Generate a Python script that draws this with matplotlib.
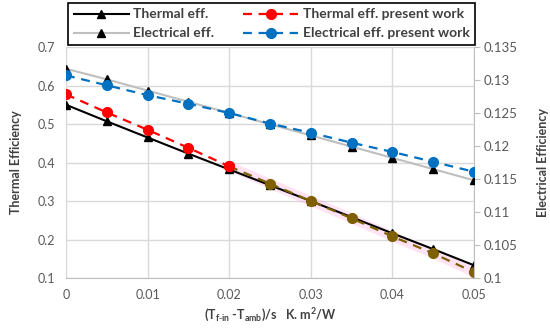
import matplotlib.pyplot as plt
from matplotlib.lines import Line2D

plt.rcParams["font.family"] = ["Lato", "DejaVu Sans"]

# reduced temperature (T_f-in - T_amb)/s
x_vals = [0, 0.005, 0.01, 0.015, 0.02, 0.025, 0.03, 0.035, 0.04, 0.045, 0.05]

thermal_eff = [0.550, 0.507, 0.465, 0.423, 0.382, 0.341, 0.300, 0.258, 0.216, 0.175, 0.133]
thermal_eff_pw = [0.577, 0.530, 0.485, 0.438, 0.390, 0.345, 0.300, 0.255, 0.208, 0.164, 0.115]
electrical_eff = [0.1317, 0.1301, 0.1284, 0.1267, 0.1250, 0.1233, 0.1216, 0.1199, 0.1182, 0.1165, 0.1148]
electrical_eff_pw = [0.1307, 0.1292, 0.1277, 0.1264, 0.1250, 0.1234, 0.1220, 0.1205, 0.1191, 0.1176, 0.1161]

x_ticks = [0, 0.01, 0.02, 0.03, 0.04, 0.05]
left_ticks = [0.1, 0.2, 0.3, 0.4, 0.5, 0.6, 0.7]
right_ticks = [0.1, 0.105, 0.11, 0.115, 0.12, 0.125, 0.13, 0.135]

tick_col = "#595959"
grid_col = "#D9D9D9"
label_col = "#404040"

fig = plt.figure(figsize=(5.5, 3.31), dpi=100)
ax = fig.add_axes([0.12, 0.16, 0.742, 0.698])
ax2 = ax.twinx()

# left axis: thermal
ax.plot(x_vals, thermal_eff, color="black", lw=1.5, marker="^", ms=6, zorder=3)
split = 4
ax.plot(x_vals[split:], thermal_eff_pw[split:], color="#FF66CC", lw=7, alpha=0.18,
        solid_capstyle="round", zorder=2)
ax.plot(x_vals[:split + 1], thermal_eff_pw[:split + 1], color="#FF0000", lw=1.6,
        ls=(0, (4, 3)), marker="o", ms=7, zorder=4)
ax.plot(x_vals[split + 1:], thermal_eff_pw[split + 1:], color="#7F6000", lw=1.6,
        ls=(0, (4, 3)), marker="o", ms=7, zorder=4)
ax.plot(x_vals[split:split + 2], thermal_eff_pw[split:split + 2], color="#7F6000",
        lw=1.6, ls=(0, (4, 3)), zorder=4)
ax.plot(x_vals[split], thermal_eff_pw[split], color="#FF0000", marker="o", ms=7, zorder=5)

# right axis: electrical
ax2.plot(x_vals, electrical_eff, color="#BFBFBF", lw=1.5, zorder=3)
ax2.plot(x_vals, electrical_eff, color="black", lw=0, marker="^", ms=6, zorder=3)
ax2.plot(x_vals, electrical_eff_pw, color="#0070C0", lw=1.6, ls=(0, (4, 3)),
         marker="o", ms=7, zorder=4)

ax.set_xlim(0, 0.05)
ax.set_ylim(0.1, 0.7)
ax2.set_ylim(0.1, 0.135)
ax.set_xticks(x_ticks)
ax.set_xticklabels([f"{v:g}" for v in x_ticks])
ax.set_yticks(left_ticks)
ax.set_yticklabels([f"{v:g}" for v in left_ticks])
ax2.set_yticks(right_ticks)
ax2.set_yticklabels([f"{v:g}" for v in right_ticks])

ax.grid(True, color=grid_col, lw=1)
ax.set_axisbelow(True)
for a in (ax, ax2):
    for s in a.spines.values():
        s.set_visible(False)
ax.spines["left"].set_visible(True)
ax.spines["bottom"].set_visible(True)
ax.spines["left"].set_color(grid_col)
ax.spines["bottom"].set_color("#BFBFBF")
ax2.spines["right"].set_visible(True)
ax2.spines["right"].set_color("#BFBFBF")

ax.tick_params(axis="both", length=0, labelsize=9, labelcolor=tick_col, pad=8)
ax2.tick_params(axis="y", length=4, color="#BFBFBF", labelsize=9.5, labelcolor=tick_col, pad=3)

ax.set_ylabel("Thermal Efficiency", fontsize=9, fontweight="bold", color=label_col, labelpad=11)
ax2.set_ylabel("Electrical Efficiency", fontsize=9, fontweight="bold", color=label_col, labelpad=14)
ax.set_xlabel(r"(T$_{\mathregular{f\text{-}in}}$ -T$_{\mathregular{amb}}$)/s   K. m$^{\mathregular{2}}$/W",
              fontsize=9, fontweight="bold", color=label_col, labelpad=4)

handles = [
    Line2D([], [], color="black", lw=1.5, marker="^", ms=6),
    Line2D([], [], color="#BFBFBF", lw=1.5, marker="^", ms=6, mfc="black", mec="black"),
    Line2D([], [], color="#FF0000", lw=1.6, ls=(0, (4, 3)), marker="o", ms=7),
    Line2D([], [], color="#0070C0", lw=1.6, ls=(0, (4, 3)), marker="o", ms=7),
]
labels = ["Thermal eff.", "Electrical eff.", "Thermal eff. present work", "Electrical eff. present work"]
leg = fig.legend(handles, labels, ncol=2, mode="expand",
                 bbox_to_anchor=(68 / 550, 1 - 45 / 331, 407 / 550, 40 / 331),
                 loc="lower left", fancybox=False, edgecolor="black", framealpha=1,
                 prop={"size": 10, "weight": "bold"}, handlelength=4.0, handletextpad=0.3,
                 borderaxespad=0, labelspacing=0.5, borderpad=0.4)
leg.get_frame().set_linewidth(1.2)
for t in leg.get_texts():
    t.set_color(label_col)

fig.savefig("out.png", dpi=100)
